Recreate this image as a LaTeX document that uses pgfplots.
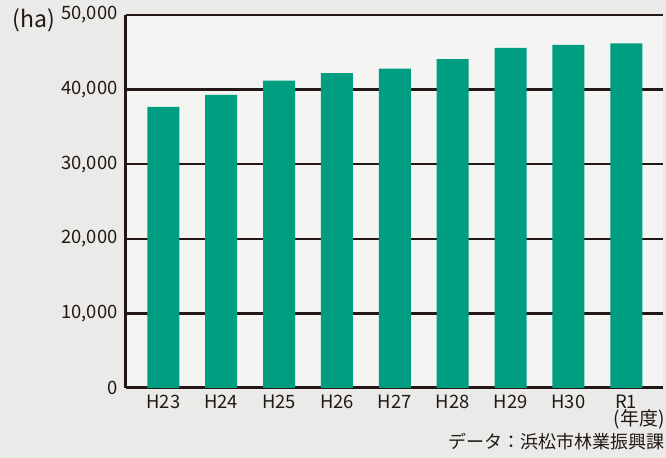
\documentclass[border=0pt]{standalone}
\usepackage{pgfplots}
\pgfplotsset{compat=1.18}
\usepackage{fontspec}
\setmainfont{Noto Sans CJK JP}
\definecolor{barcol}{RGB}{0,158,128}
\definecolor{ink}{RGB}{35,24,21}
\definecolor{bg}{RGB}{234,234,233}
\definecolor{plotbg}{RGB}{244,244,243}

\begin{document}
\begin{tikzpicture}
% background (whole picture, 666x458 px at 0.5pt per px)
\fill[bg] (0,0) rectangle (333pt,229pt);
\begin{axis}[
    at={(63pt,35pt)}, anchor=south west,
    scale only axis,
    width=268.5pt, height=186.5pt,
    xmin=-0.645, xmax=8.635,
    ymin=0, ymax=50000,
    axis background/.style={fill=plotbg},
    axis x line=bottom, axis y line=left,
    axis line style={-, ink, line width=1.5pt},
    ybar, bar width=16pt,
    xtick={0,...,8},
    xticklabels={H23,H24,H25,H26,H27,H28,H29,H30,R1},
    ytick={0,10000,20000,30000,40000,50000},
    scaled y ticks=false,
    /pgf/number format/.cd, 1000 sep={,}, assume math mode=true, /pgfplots/.cd,
    major tick length=0pt,
    tick style={draw=none},
    ymajorgrids,
    major grid style={ink, line width=1.2pt},
    yticklabel style={font=\fontsize{9.2}{10}\selectfont, text=ink, inner sep=0pt, xshift=-4pt},
    xticklabel style={font=\fontsize{9.2}{10}\selectfont, text=ink, inner sep=0pt, yshift=-3.5pt},
    clip=false,
]
\addplot[fill=barcol, draw=none] coordinates {
    (0,37700) (1,39300) (2,41200) (3,42200) (4,42800)
    (5,44100) (6,45600) (7,46000) (8,46200)
};
\end{axis}
\node[anchor=west, inner sep=0pt, text=ink, font=\fontsize{11.5}{12}\selectfont] at (6pt,219pt) {(ha)};
\node[anchor=east, inner sep=0pt, text=ink, font=\fontsize{9.5}{10}\selectfont] at (332.5pt,19.5pt) {(年度)};
\node[anchor=east, inner sep=0pt, text=ink, font=\fontsize{9}{10}\selectfont] at (332.5pt,8pt) {データ：浜松市林業振興課};
\end{tikzpicture}
\end{document}
